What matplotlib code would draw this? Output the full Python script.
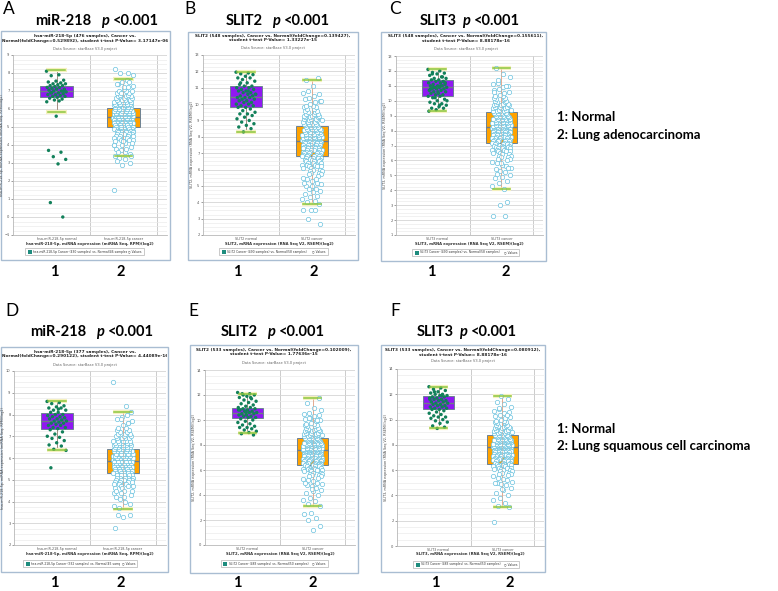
import matplotlib
matplotlib.use("Agg")
import matplotlib.pyplot as plt
from matplotlib.patches import Rectangle
from matplotlib.transforms import Bbox, TransformedBbox
import numpy as np

# =========================================================
# DADOS
# =========================================================

letras = ["A", "B", "C", "D", "E", "F"]
genes = ["miR-218", "SLIT2", "SLIT3", "miR-218", "SLIT2", "SLIT3"]
p_texto = "<0.001"

titulos_print = [
    "hsa-miR-218-5p (476 samples), Cancer vs.\nNormal(foldChange=0.529892), student t-test P-Value= 3.17147e-06",
    "SLIT2 (548 samples), Cancer vs. Normal(foldChange=0.139427),\nstudent t-test P-Value= 1.33227e-15",
    "SLIT3 (548 samples), Cancer vs. Normal(foldChange=0.155611),\nstudent t-test P-Value= 8.88178e-16",
    "hsa-miR-218-5p (377 samples), Cancer vs.\nNormal(foldChange=0.290122), student t-test P-Value= 4.44089e-16",
    "SLIT2 (533 samples), Cancer vs. Normal(foldChange=0.102009),\nstudent t-test P-Value= 1.77636e-15",
    "SLIT3 (533 samples), Cancer vs. Normal(foldChange=0.080912),\nstudent t-test P-Value= 8.88178e-16",
]
fonte_dados = "Data Source: starBase V3.0 project"

nomes_y = [
    "hsa-miR-218-5p, miRNA expression (miRNA Seq, RPM)(log2)",
    "SLIT2, mRNA expression (RNA Seq V2, RSEM)(log2)",
    "SLIT3, mRNA expression (RNA Seq V2, RSEM)(log2)",
    "hsa-miR-218-5p, miRNA expression (miRNA Seq, RPM)(log2)",
    "SLIT2, mRNA expression (RNA Seq V2, RSEM)(log2)",
    "SLIT3, mRNA expression (RNA Seq V2, RSEM)(log2)",
]
categorias = [
    ["hsa-miR-218-5p normal", "hsa-miR-218-5p cancer"],
    ["SLIT2 normal", "SLIT2 cancer"],
    ["SLIT3 normal", "SLIT3 cancer"],
    ["hsa-miR-218-5p normal", "hsa-miR-218-5p cancer"],
    ["SLIT2 normal", "SLIT2 cancer"],
    ["SLIT3 normal", "SLIT3 cancer"],
]
legendas = [
    "hsa-miR-218-5p Cancer (430 samples) vs. Normal(46 samples)",
    "SLIT2 Cancer (490 samples) vs. Normal(58 samples)",
    "SLIT3 Cancer (490 samples) vs. Normal(58 samples)",
    "hsa-miR-218-5p Cancer (332 samples) vs. Normal(45 samples)",
    "SLIT2 Cancer (483 samples) vs. Normal(50 samples)",
    "SLIT3 Cancer (483 samples) vs. Normal(50 samples)",
]
grupos_luad = ["1: Normal", "2: Lung adenocarcinoma"]
grupos_lusc = ["1: Normal", "2: Lung squamous cell carcinoma"]

y_limites = [(-1, 9), (2, 13), (1, 13), (2, 10), (0, 14), (0, 14)]
y_passos = [1, 1, 1, 1, 2, 2]

# estatisticas do box: [whislo, q1, mediana, q3, whishi]
box_a_normal = [5.83, 6.69, 7.0, 7.28, 8.16]
box_a_cancer = [3.37, 4.98, 5.54, 6.04, 7.66]
box_b_normal = [8.3, 9.8, 10.45, 11.1, 11.95]
box_b_cancer = [3.9, 6.8, 7.75, 8.65, 11.5]
box_c_normal = [9.3, 10.35, 10.9, 11.4, 12.1]
box_c_cancer = [4.1, 7.2, 8.25, 9.25, 12.2]
box_d_normal = [6.35, 7.35, 7.7, 8.05, 8.6]
box_d_cancer = [3.65, 5.3, 5.85, 6.4, 8.1]
box_e_normal = [9.0, 10.2, 10.55, 11.0, 12.1]
box_e_cancer = [3.1, 6.4, 7.6, 8.6, 11.8]
box_f_normal = [9.3, 10.85, 11.3, 11.85, 12.6]
box_f_cancer = [3.1, 6.5, 7.8, 8.8, 11.9]

# pontos individuais
a_normal = [8.1, 7.9, 7.85, 7.6, 7.55, 7.5, 7.45, 7.4, 7.4, 7.35,
            7.3, 7.3, 7.25, 7.2, 7.2, 7.15, 7.1, 7.1, 7.05, 7.0,
            7.0, 6.95, 6.9, 6.9, 6.85, 6.8, 6.8, 6.75, 6.7, 6.7,
            6.65, 6.6, 6.55, 6.5, 6.4, 6.45, 6.9, 7.0, 5.6, 3.7,
            3.6, 3.35, 3.2, 2.95, 0.8, 0.0]
a_cancer = [
    5.5, 5.5, 5.5, 5.5, 5.5, 5.5, 5.5, 5.5,
    5.4, 5.4, 5.4, 5.4, 5.4, 5.4, 5.4, 5.4, 5.6, 5.6, 5.6, 5.6, 5.6, 5.6, 5.6, 5.6,
    5.3, 5.3, 5.3, 5.3, 5.3, 5.3, 5.3, 5.3, 5.7, 5.7, 5.7, 5.7, 5.7, 5.7, 5.7, 5.7,
    5.2, 5.2, 5.2, 5.2, 5.2, 5.2, 5.2, 5.2, 5.8, 5.8, 5.8, 5.8, 5.8, 5.8, 5.8, 5.8,
    5.1, 5.1, 5.1, 5.1, 5.1, 5.1, 5.1, 5.9, 5.9, 5.9, 5.9, 5.9, 5.9, 5.9,
    5.0, 5.0, 5.0, 5.0, 5.0, 5.0, 5.0, 6.0, 6.0, 6.0, 6.0, 6.0, 6.0, 6.0,
    4.9, 4.9, 4.9, 4.9, 4.9, 4.9, 6.1, 6.1, 6.1, 6.1, 6.1, 6.1,
    4.8, 4.8, 4.8, 4.8, 4.8, 4.8, 6.2, 6.2, 6.2, 6.2, 6.2, 6.2,
    4.7, 4.7, 4.7, 4.7, 4.7, 6.3, 6.3, 6.3, 6.3, 6.3,
    4.6, 4.6, 4.6, 4.6, 4.6, 6.4, 6.4, 6.4, 6.4, 6.4,
    4.5, 4.5, 4.5, 4.5, 6.5, 6.5, 6.5, 6.5,
    4.4, 4.4, 4.4, 6.6, 6.6, 6.6, 4.3, 4.3, 4.3, 6.7, 6.7, 6.7,
    4.2, 4.2, 6.8, 6.8, 4.1, 4.1, 6.9, 6.9, 4.0, 4.0, 7.0, 7.0,
    3.9, 7.1, 3.8, 7.2, 3.7, 7.3, 3.6, 7.4, 3.5, 7.5, 3.4, 7.6, 3.3,
    7.0, 7.2, 7.4, 7.5, 6.9, 4.0, 3.8, 3.6, 3.4, 4.2,
    8.2, 8.0, 8.0, 7.9, 3.2, 3.1, 3.0, 2.9, 1.5]

b_normal = [11.95, 11.9, 11.85, 11.8, 11.7, 11.6, 11.6, 11.5, 11.4, 11.3,
            11.2, 11.1, 11.1, 11.0, 11.0, 10.9, 10.9, 10.8, 10.8, 10.7,
            10.7, 10.6, 10.6, 10.5, 10.5, 10.4, 10.4, 10.4, 10.3, 10.3,
            10.2, 10.2, 10.1, 10.1, 10.0, 10.0, 9.9, 9.9, 9.8, 9.8,
            9.7, 9.6, 9.5, 9.4, 9.4, 9.3, 9.2, 9.1, 9.0, 8.9,
            8.8, 8.7, 8.6, 8.5, 8.3, 10.6, 10.8, 11.3]
b_cancer = [
    7.8, 7.8, 7.8, 7.8, 7.8,
    7.7, 7.7, 7.7, 7.7, 7.7, 7.9, 7.9, 7.9, 7.9, 7.9,
    7.6, 7.6, 7.6, 7.6, 7.6, 8.0, 8.0, 8.0, 8.0, 8.0,
    7.5, 7.5, 7.5, 7.5, 7.5, 8.1, 8.1, 8.1, 8.1, 8.1,
    7.4, 7.4, 7.4, 7.4, 7.4, 8.2, 8.2, 8.2, 8.2, 8.2,
    7.3, 7.3, 7.3, 7.3, 7.3, 8.3, 8.3, 8.3, 8.3, 8.3,
    7.2, 7.2, 7.2, 7.2, 7.2, 8.4, 8.4, 8.4, 8.4, 8.4,
    7.1, 7.1, 7.1, 7.1, 8.5, 8.5, 8.5, 8.5,
    7.0, 7.0, 7.0, 7.0, 8.6, 8.6, 8.6, 8.6,
    6.9, 6.9, 6.9, 6.9, 8.7, 8.7, 8.7, 8.7,
    6.8, 6.8, 6.8, 6.8, 8.8, 8.8, 8.8, 8.8,
    6.7, 6.7, 6.7, 6.7, 8.9, 8.9, 8.9, 8.9,
    6.6, 6.6, 6.6, 9.0, 9.0, 9.0, 6.5, 6.5, 6.5, 9.1, 9.1, 9.1,
    6.4, 6.4, 6.4, 9.2, 9.2, 9.2, 6.3, 6.3, 6.3, 9.3, 9.3, 9.3,
    6.2, 6.2, 6.2, 9.4, 9.4, 9.4,
    6.1, 6.1, 9.5, 9.5, 6.0, 6.0, 9.6, 9.6, 5.9, 5.9, 9.7, 9.7,
    5.8, 5.8, 9.8, 9.8, 5.7, 5.7, 9.9, 9.9,
    5.6, 10.0, 5.5, 10.1, 5.4, 10.2, 5.3, 10.3, 5.2, 10.4,
    5.1, 10.5, 5.0, 10.6, 4.9, 10.7, 4.8, 10.8,
    4.7, 4.6, 4.5, 4.4, 4.3, 4.2, 4.1, 4.0, 3.9, 5.0, 5.2, 5.4, 4.8,
    10.2, 11.1, 11.5, 11.6, 3.5, 3.5, 3.5, 3.0, 2.7]

c_normal = [12.1, 12.0, 11.9, 11.85, 11.8, 11.7, 11.6, 11.5, 11.5, 11.4,
            11.4, 11.3, 11.3, 11.2, 11.2, 11.1, 11.1, 11.0, 11.0, 11.0,
            10.9, 10.9, 10.9, 10.8, 10.8, 10.8, 10.7, 10.7, 10.6, 10.6,
            10.5, 10.5, 10.4, 10.4, 10.3, 10.3, 10.2, 10.1, 10.0, 9.9,
            9.8, 9.8, 9.7, 9.6, 9.5, 9.5, 9.4, 9.3, 11.0, 10.9,
            11.2, 10.6, 10.8, 11.6, 10.2, 10.0, 9.7, 11.8]
c_cancer = [
    8.2, 8.2, 8.2, 8.2, 8.2,
    8.1, 8.1, 8.1, 8.1, 8.1, 8.3, 8.3, 8.3, 8.3, 8.3,
    8.0, 8.0, 8.0, 8.0, 8.0, 8.4, 8.4, 8.4, 8.4, 8.4,
    7.9, 7.9, 7.9, 7.9, 7.9, 8.5, 8.5, 8.5, 8.5, 8.5,
    7.8, 7.8, 7.8, 7.8, 7.8, 8.6, 8.6, 8.6, 8.6, 8.6,
    7.7, 7.7, 7.7, 7.7, 7.7, 8.7, 8.7, 8.7, 8.7, 8.7,
    7.6, 7.6, 7.6, 7.6, 7.6, 8.8, 8.8, 8.8, 8.8, 8.8,
    7.5, 7.5, 7.5, 7.5, 8.9, 8.9, 8.9, 8.9,
    7.4, 7.4, 7.4, 7.4, 9.0, 9.0, 9.0, 9.0,
    7.3, 7.3, 7.3, 7.3, 9.1, 9.1, 9.1, 9.1,
    7.2, 7.2, 7.2, 7.2, 9.2, 9.2, 9.2, 9.2,
    7.1, 7.1, 7.1, 7.1, 9.3, 9.3, 9.3, 9.3,
    7.0, 7.0, 7.0, 9.4, 9.4, 9.4, 6.9, 6.9, 6.9, 9.5, 9.5, 9.5,
    6.8, 6.8, 6.8, 9.6, 9.6, 9.6, 6.7, 6.7, 6.7, 9.7, 9.7, 9.7,
    6.6, 6.6, 6.6, 9.8, 9.8, 9.8,
    6.5, 6.5, 9.9, 9.9, 6.4, 6.4, 10.0, 10.0, 6.3, 6.3, 10.1, 10.1,
    6.2, 6.2, 10.2, 10.2, 6.1, 6.1, 10.3, 10.3,
    6.0, 10.4, 5.9, 10.5, 5.8, 10.6, 5.7, 10.7, 5.6, 10.8,
    5.5, 10.9, 5.4, 11.0, 5.3, 11.1, 5.2, 11.2,
    5.0, 4.9, 4.8, 4.6, 4.5, 4.3, 4.1, 5.1, 5.5, 5.8,
    10.6, 11.0, 11.4, 11.6, 11.8, 12.2, 3.2, 3.0, 2.3, 2.3]

d_normal = [8.6, 8.55, 8.5, 8.4, 8.35, 8.3, 8.3, 8.2, 8.2, 8.1,
            8.1, 8.0, 8.0, 7.95, 7.9, 7.9, 7.85, 7.8, 7.8, 7.75,
            7.7, 7.7, 7.65, 7.6, 7.6, 7.55, 7.5, 7.5, 7.4, 7.4,
            7.35, 7.3, 7.2, 7.1, 7.0, 6.95, 6.9, 6.8, 6.7, 6.6,
            6.55, 6.4, 6.35, 8.25, 5.55]
d_cancer = [
    5.9, 5.9, 5.9, 5.9, 5.9, 5.9, 5.9, 5.9,
    5.8, 5.8, 5.8, 5.8, 5.8, 5.8, 5.8, 5.8, 6.0, 6.0, 6.0, 6.0, 6.0, 6.0, 6.0, 6.0,
    5.7, 5.7, 5.7, 5.7, 5.7, 5.7, 5.7, 5.7, 6.1, 6.1, 6.1, 6.1, 6.1, 6.1, 6.1, 6.1,
    5.6, 5.6, 5.6, 5.6, 5.6, 5.6, 5.6, 5.6, 6.2, 6.2, 6.2, 6.2, 6.2, 6.2, 6.2, 6.2,
    5.5, 5.5, 5.5, 5.5, 5.5, 5.5, 5.5, 6.3, 6.3, 6.3, 6.3, 6.3, 6.3, 6.3,
    5.4, 5.4, 5.4, 5.4, 5.4, 5.4, 5.4, 6.4, 6.4, 6.4, 6.4, 6.4, 6.4, 6.4,
    5.3, 5.3, 5.3, 5.3, 5.3, 5.3, 6.5, 6.5, 6.5, 6.5, 6.5, 6.5,
    5.2, 5.2, 5.2, 5.2, 5.2, 5.2, 6.6, 6.6, 6.6, 6.6, 6.6, 6.6,
    5.1, 5.1, 5.1, 5.1, 5.1, 6.7, 6.7, 6.7, 6.7, 6.7,
    5.0, 5.0, 5.0, 5.0, 5.0, 6.8, 6.8, 6.8, 6.8, 6.8,
    4.9, 4.9, 4.9, 4.9, 6.9, 6.9, 6.9, 6.9,
    4.8, 4.8, 4.8, 7.0, 7.0, 7.0, 4.7, 4.7, 4.7, 7.1, 7.1, 7.1,
    4.6, 4.6, 7.2, 7.2, 4.5, 4.5, 7.3, 7.3, 4.4, 4.4, 7.4, 7.4,
    4.3, 7.5, 4.2, 7.6, 4.1, 7.7, 4.0, 7.8, 3.9, 7.9, 3.8, 8.0,
    3.7, 8.1, 4.2, 4.5, 7.6, 7.8,
    9.5, 8.4, 3.4, 3.4, 3.3, 2.8]

e_normal = [12.2, 12.1, 12.1, 12.0, 11.9, 11.8, 11.7, 11.6, 11.5, 11.4,
            11.3, 11.2, 11.1, 11.0, 11.0, 10.9, 10.9, 10.8, 10.8, 10.7,
            10.7, 10.6, 10.6, 10.5, 10.5, 10.4, 10.4, 10.3, 10.3, 10.2,
            10.2, 10.1, 10.0, 9.9, 9.8, 9.7, 9.6, 9.5, 9.4, 9.4,
            9.3, 9.2, 9.1, 9.0, 8.9, 8.8, 10.6, 10.8, 11.8, 12.0]
e_cancer = [
    7.6, 7.6, 7.6, 7.6, 7.6,
    7.5, 7.5, 7.5, 7.5, 7.5, 7.7, 7.7, 7.7, 7.7, 7.7,
    7.4, 7.4, 7.4, 7.4, 7.4, 7.8, 7.8, 7.8, 7.8, 7.8,
    7.3, 7.3, 7.3, 7.3, 7.3, 7.9, 7.9, 7.9, 7.9, 7.9,
    7.2, 7.2, 7.2, 7.2, 7.2, 8.0, 8.0, 8.0, 8.0, 8.0,
    7.1, 7.1, 7.1, 7.1, 7.1, 8.1, 8.1, 8.1, 8.1, 8.1,
    7.0, 7.0, 7.0, 7.0, 7.0, 8.2, 8.2, 8.2, 8.2, 8.2,
    6.9, 6.9, 6.9, 6.9, 8.3, 8.3, 8.3, 8.3,
    6.8, 6.8, 6.8, 6.8, 8.4, 8.4, 8.4, 8.4,
    6.7, 6.7, 6.7, 6.7, 8.5, 8.5, 8.5, 8.5,
    6.6, 6.6, 6.6, 6.6, 8.6, 8.6, 8.6, 8.6,
    6.5, 6.5, 6.5, 6.5, 8.7, 8.7, 8.7, 8.7,
    6.4, 6.4, 6.4, 8.8, 8.8, 8.8, 6.3, 6.3, 6.3, 8.9, 8.9, 8.9,
    6.2, 6.2, 6.2, 9.0, 9.0, 9.0, 6.1, 6.1, 6.1, 9.1, 9.1, 9.1,
    6.0, 6.0, 6.0, 9.2, 9.2, 9.2,
    5.9, 5.9, 9.3, 9.3, 5.8, 5.8, 9.4, 9.4, 5.7, 5.7, 9.5, 9.5,
    5.6, 5.6, 9.6, 9.6, 5.5, 5.5, 9.7, 9.7,
    5.4, 9.8, 5.3, 9.9, 5.2, 10.0, 5.1, 10.1, 5.0, 10.2,
    4.9, 10.3, 4.8, 10.4, 4.7, 10.5, 4.6, 10.6,
    4.4, 4.3, 4.2, 4.0, 3.8, 3.6, 3.5, 3.3, 3.1, 4.5, 5.0,
    10.0, 10.2, 10.8, 11.0, 11.4, 11.8, 2.6, 2.5, 2.2, 2.0, 1.5, 1.2]

f_normal = [12.6, 12.5, 12.4, 12.3, 12.2, 12.1, 12.0, 12.0, 11.9, 11.9,
            11.8, 11.8, 11.7, 11.7, 11.6, 11.6, 11.5, 11.5, 11.4, 11.4,
            11.3, 11.3, 11.2, 11.2, 11.1, 11.1, 11.0, 11.0, 10.9, 10.9,
            10.8, 10.8, 10.7, 10.6, 10.5, 10.4, 10.3, 10.2, 10.2, 10.1,
            10.0, 9.9, 9.8, 9.7, 9.5, 9.4, 9.3, 11.6, 11.9, 12.2]
f_cancer = [
    7.8, 7.8, 7.8, 7.8, 7.8,
    7.7, 7.7, 7.7, 7.7, 7.7, 7.9, 7.9, 7.9, 7.9, 7.9,
    7.6, 7.6, 7.6, 7.6, 7.6, 8.0, 8.0, 8.0, 8.0, 8.0,
    7.5, 7.5, 7.5, 7.5, 7.5, 8.1, 8.1, 8.1, 8.1, 8.1,
    7.4, 7.4, 7.4, 7.4, 7.4, 8.2, 8.2, 8.2, 8.2, 8.2,
    7.3, 7.3, 7.3, 7.3, 7.3, 8.3, 8.3, 8.3, 8.3, 8.3,
    7.2, 7.2, 7.2, 7.2, 7.2, 8.4, 8.4, 8.4, 8.4, 8.4,
    7.1, 7.1, 7.1, 7.1, 8.5, 8.5, 8.5, 8.5,
    7.0, 7.0, 7.0, 7.0, 8.6, 8.6, 8.6, 8.6,
    6.9, 6.9, 6.9, 6.9, 8.7, 8.7, 8.7, 8.7,
    6.8, 6.8, 6.8, 6.8, 8.8, 8.8, 8.8, 8.8,
    6.7, 6.7, 6.7, 6.7, 8.9, 8.9, 8.9, 8.9,
    6.6, 6.6, 6.6, 9.0, 9.0, 9.0, 6.5, 6.5, 6.5, 9.1, 9.1, 9.1,
    6.4, 6.4, 6.4, 9.2, 9.2, 9.2, 6.3, 6.3, 6.3, 9.3, 9.3, 9.3,
    6.2, 6.2, 6.2, 9.4, 9.4, 9.4,
    6.1, 6.1, 9.5, 9.5, 6.0, 6.0, 9.6, 9.6, 5.9, 5.9, 9.7, 9.7,
    5.8, 5.8, 9.8, 9.8, 5.7, 5.7, 9.9, 9.9,
    5.6, 10.0, 5.5, 10.1, 5.4, 10.2, 5.3, 10.3, 5.2, 10.4,
    5.1, 10.5, 5.0, 10.6, 4.9, 10.7, 4.8, 10.8,
    4.6, 4.4, 4.2, 4.0, 3.8, 3.6, 3.4, 3.2, 3.1, 4.5, 5.0,
    10.4, 10.9, 11.0, 11.2, 11.4, 11.6, 11.9, 1.9]

# =========================================================
# LAYOUT (pixels da imagem original)
# =========================================================

W, H = 778, 591

layout = [
    dict(letra=(3, 9), titulo=(97, 21), espaco=9, frame=(1, 31, 170, 260), plot=(13, 55, 167, 235),
         cab=(85, 37, 49), leg=(25, 248, 144, 255), nums=((54, 272), (121, 272))),
    dict(letra=(184, 9), titulo=(278, 21), espaco=9, frame=(188, 32, 358, 260), plot=(203, 55, 355, 235),
         cab=(273, 36, 48), leg=(219, 248, 328, 255), nums=((237, 272), (314, 272))),
    dict(letra=(389, 9), titulo=(470, 21), espaco=5, frame=(381, 32, 546, 261), plot=(396, 56, 543, 235),
         cab=(466, 37, 49), leg=(412, 249, 519, 256), nums=((431, 272), (506, 272))),
    dict(letra=(5, 311), titulo=(92, 332), espaco=9, frame=(1, 347, 168, 572), plot=(14, 371, 166, 545),
         cab=(85, 352, 365), leg=(23, 560, 137, 567), nums=((54, 583), (121, 583))),
    dict(letra=(188, 311), titulo=(273, 332), espaco=9, frame=(190, 345, 358, 573), plot=(205, 370, 355, 545),
         cab=(274, 350, 363), leg=(221, 560, 328, 567), nums=((237, 583), (313, 583))),
    dict(letra=(390, 311), titulo=(467, 332), espaco=5, frame=(381, 345, 545, 572), plot=(397, 369, 544, 546),
         cab=(463, 351, 361), leg=(413, 561, 519, 568), nums=((435, 583), (510, 583))),
]

COR_BOX_NORMAL = "#9018f2"
COR_BOX_CANCER = "#ffa200"
COR_PT_NORMAL = "#12805a"
COR_PT_CANCER = "#6cc3df"
COR_CAP = "#8cc63f"
COR_FRAME = "#a9bdd2"

fig = plt.figure(figsize=(W / 100, H / 100), dpi=100)
fig.patch.set_facecolor("white")


def fx(x):
    return x / W


def fy(y):
    return 1 - y / H


def jitter(n, largura):
    # espalhamento horizontal determinista (sequencia de razao aurea)
    return ((np.arange(n) * 0.6180339887) % 1 - 0.5) * largura


def titulo_rico(xc, y, nome, espaco):
    r = fig.canvas.get_renderer()
    partes = [(nome, "normal", espaco), ("p", "italic", 4), (p_texto, "normal", 0)]
    objs = []
    total = 0
    for s, estilo, gap in partes:
        t = fig.text(0, fy(y), s, fontsize=10.5, fontweight="bold", style=estilo,
                     family="Lato", ha="left", va="center")
        w = t.get_window_extent(r).width
        objs.append((t, w, gap))
        total += w + gap
    x = xc - total / 2
    for t, w, gap in objs:
        t.set_x(fx(x))
        x += w + gap


def painel(i, normal, cancer, box_n, box_c):
    lay = layout[i]
    x0, y0, x1, y1 = lay["frame"]
    frame = Rectangle((fx(x0), fy(y1)), (x1 - x0) / W, (y1 - y0) / H, transform=fig.transFigure,
                      facecolor="white", edgecolor=COR_FRAME, lw=1.0, zorder=-1)
    fig.add_artist(frame)
    clip = TransformedBbox(Bbox([[fx(x0 + 1), fy(y1)], [fx(x1 - 1), fy(y0)]]), fig.transFigure)

    fig.text(fx(lay["letra"][0]), fy(lay["letra"][1]), letras[i], fontsize=12.5,
             family="Lato", ha="left", va="center")
    titulo_rico(lay["titulo"][0], lay["titulo"][1], genes[i], lay["espaco"])

    # cabecalho do print
    cx, cy, cds = lay["cab"]
    t = fig.text(fx(cx), fy(cy - 2.5), titulos_print[i], fontsize=3.1, fontweight="bold",
                 ha="center", va="top", linespacing=1.05, color="#222222")
    t.set_clip_box(clip)
    t.set_clip_on(True)
    fig.text(fx(cx), fy(cds), fonte_dados, fontsize=2.6, ha="center", va="center", color="#666666")

    # area do grafico
    px0, py0, px1, py1 = lay["plot"]
    ax = fig.add_axes([fx(px0), fy(py1), (px1 - px0) / W, (py1 - py0) / H])
    ymin, ymax = y_limites[i]
    passo = y_passos[i]
    ax.set_xlim(0.35, 2.65)
    ax.set_ylim(ymin, ymax)
    ax.set_yticks(np.arange(ymin, ymax + 0.01, passo))
    ax.set_yticks(np.arange(ymin, ymax + 0.01, passo / 4), minor=True)
    ax.grid(which="major", axis="y", color="#d4d4d4", lw=0.6, zorder=0)
    ax.grid(which="minor", axis="y", color="#ebebeb", lw=0.5, zorder=0)
    ax.axvline(1.5, color="#cccccc", lw=0.7, zorder=0.5)
    ax.axvline(2.5, color="#cccccc", lw=0.7, zorder=0.5)
    ax.set_axisbelow(True)
    ax.tick_params(axis="y", which="major", labelsize=2.6, length=1.5, width=0.4,
                   pad=1, colors="#555555")
    ax.tick_params(axis="y", which="minor", length=0)
    ax.set_xticks([1, 2])
    ax.set_xticklabels(categorias[i])
    ax.tick_params(axis="x", labelsize=2.4, length=0, pad=1.2, colors="#555555")
    ax.set_xlabel(nomes_y[i], fontsize=2.7, fontweight="bold", labelpad=0.6, color="#333333")
    ax.set_ylabel(nomes_y[i], fontsize=2.4, labelpad=0.4, color="#444444")
    for s in ["top", "right"]:
        ax.spines[s].set_visible(False)
    for s in ["left", "bottom"]:
        ax.spines[s].set_color("#b8b8b8")
        ax.spines[s].set_linewidth(0.6)

    stats = []
    for b in (box_n, box_c):
        stats.append(dict(whislo=b[0], q1=b[1], med=b[2], q3=b[3], whishi=b[4]))
    bp = ax.bxp(stats, positions=[1, 2], widths=0.48, capwidths=0.26, patch_artist=True,
                showfliers=False, manage_ticks=False,
                boxprops=dict(edgecolor="#6d8294", linewidth=0.7),
                medianprops=dict(color="#707c88", linewidth=1.0),
                capprops=dict(color=COR_CAP, linewidth=1.1))
    bp["boxes"][0].set_facecolor(COR_BOX_NORMAL)
    bp["boxes"][1].set_facecolor(COR_BOX_CANCER)
    cores_whisker = ["#a08c80", "#a08c80", "#e9b096", "#e9b096"]
    for w, c in zip(bp["whiskers"], cores_whisker):
        w.set_color(c)
        w.set_linewidth(0.7)
        w.set_zorder(1.5)
    for b in bp["boxes"]:
        b.set_zorder(2)
    for m in bp["medians"]:
        m.set_zorder(2.5)
    for c in bp["caps"]:
        c.set_zorder(4)
    # brilho amarelo sob as hastes
    for pos, b in zip([1, 2], (box_n, box_c)):
        ax.hlines([b[0], b[4]], pos - 0.15, pos + 0.15, colors="#f6f1bf", lw=3.0, zorder=1.6)

    yn = np.array(normal)
    yc = np.array(cancer)
    ax.scatter(1 + jitter(len(yn), 0.30), yn, s=6, color=COR_PT_NORMAL, edgecolors="none", zorder=3)
    ax.scatter(2 + jitter(len(yc), 0.30), yc, s=10, facecolors="white", edgecolors=COR_PT_CANCER,
               linewidths=0.5, zorder=3)
    # haste central visivel por cima dos pontos
    ax.vlines(2, box_c[0], box_c[4], colors="#d9a58c", lw=0.4, alpha=0.7, zorder=3.5)

    # legenda do print
    lx0, ly0, lx1, ly1 = lay["leg"]
    fig.add_artist(Rectangle((fx(lx0), fy(ly1)), (lx1 - lx0) / W, (ly1 - ly0) / H,
                             transform=fig.transFigure, facecolor="white",
                             edgecolor="#b4b4b4", lw=0.5))
    lm = (ly0 + ly1) / 2
    fig.add_artist(Rectangle((fx(lx0 + 2.5), fy(lm + 2)), 4 / W, 4 / H, transform=fig.transFigure,
                             facecolor="#1e8c7e", edgecolor="none"))
    t = fig.text(fx(lx0 + 8), fy(lm), legendas[i], fontsize=2.2, ha="left", va="center", color="#333333")
    t.set_clip_box(TransformedBbox(Bbox([[fx(lx0), fy(ly1)], [fx(lx1 - 17), fy(ly0)]]), fig.transFigure))
    t.set_clip_on(True)
    fig.text(fx(lx1 - 2), fy(lm), "○ Values", fontsize=2.2, ha="right", va="center", color="#333333")

    for k, (nx, ny) in enumerate(lay["nums"]):
        fig.text(fx(nx), fy(ny), str(k + 1), fontsize=10.5, fontweight="bold", family="Lato",
                 ha="center", va="center")


painel(0, a_normal, a_cancer, box_a_normal, box_a_cancer)
painel(1, b_normal, b_cancer, box_b_normal, box_b_cancer)
painel(2, c_normal, c_cancer, box_c_normal, box_c_cancer)
painel(3, d_normal, d_cancer, box_d_normal, box_d_cancer)
painel(4, e_normal, e_cancer, box_e_normal, box_e_cancer)
painel(5, f_normal, f_cancer, box_f_normal, box_f_cancer)

for j, s in enumerate(grupos_luad):
    fig.text(fx(557), fy(117 + 18 * j), s, fontsize=9.5, fontweight="bold", family="Lato",
             ha="left", va="center")
for j, s in enumerate(grupos_lusc):
    fig.text(fx(557), fy(429 + 17 * j), s, fontsize=9.5, fontweight="bold", family="Lato",
             ha="left", va="center")

fig.savefig("out.png", dpi=100, facecolor="white")
